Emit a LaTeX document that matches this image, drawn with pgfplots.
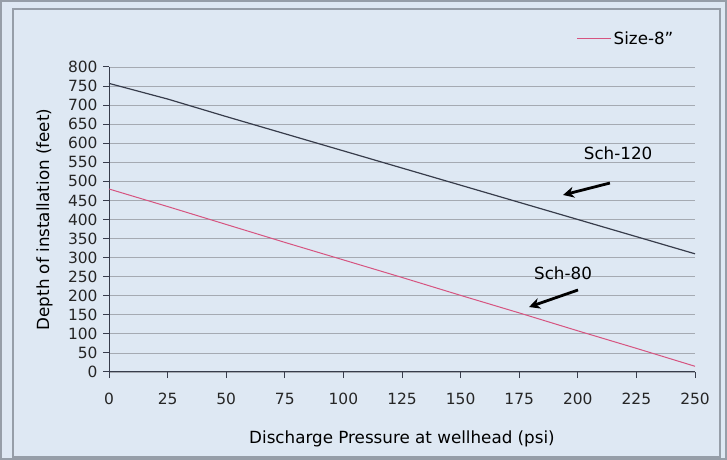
\documentclass[border=0pt]{standalone}
\usepackage{pgfplots}
\pgfplotsset{compat=1.18}
\usepackage{fontspec}
\setmainfont{DejaVu Sans}
\usetikzlibrary{arrows.meta}
\definecolor{bgblue}{RGB}{222,232,243}
\definecolor{framegray}{RGB}{150,158,168}
\definecolor{gridgray}{RGB}{165,170,178}
\definecolor{darkline}{RGB}{55,60,75}
\definecolor{pinkline}{RGB}{214,84,128}
\newcommand{\lblfont}{\fontsize{16.8}{18}\selectfont}
\begin{document}
\begin{tikzpicture}
\fill[bgblue] (0,0) rectangle (727bp,460bp);
\useasboundingbox (0,0) rectangle (727bp,460bp);
\draw[framegray, line width=1.2bp] (1bp,1bp) rectangle (726bp,459bp);
\draw[framegray, line width=1.5bp] (13bp,3bp) rectangle (720bp,451bp);
\begin{axis}[
    at={(109bp,88bp)}, anchor=south west,
    scale only axis, width=586bp, height=305bp,
    xmin=0, xmax=250, ymin=0, ymax=800,
    enlargelimits=false,
    axis x line=bottom, axis y line=left,
    axis line style={darkline, line width=1bp, -},
    xtick={0,25,...,250}, ytick={0,50,...,800},
    tick align=outside, major tick length=6bp,
    tick style={darkline, line width=1bp},
    ymajorgrids, grid style={gridgray, line width=0.8bp},
    font=\fontsize{15.5}{17}\selectfont,
    /pgf/number format/assume math mode=true,
    ticklabel style={text=black!85},
    xticklabel style={yshift=-12bp},
    yticklabel style={xshift=-2bp},
    every axis y label/.style={at={(axis description cs:-0.11,0.5)}, rotate=90, anchor=center, font=\lblfont},
    every axis x label/.style={at={(axis description cs:0.5,-0.22)}, anchor=center, font=\lblfont},
    xlabel={Discharge Pressure at wellhead (psi)},
    ylabel={Depth of installation (feet)},
    legend style={draw=none, fill=none, at={(rel axis cs:0.972,1.092)}, anchor=east, font=\lblfont},
    legend image code/.code={\draw[#1] (0bp,0bp) -- (34bp,0bp);},
    clip=false,
]
\addplot[darkline, line width=1.2bp, forget plot] coordinates {
(0,757) (25,716) (50,670) (75,625) (100,580) (125,535) (150,490) (175,445) (200,400) (225,355) (250,310)};
\addplot[pinkline, line width=1bp] coordinates {
(0,480) (25,434) (50,387) (75,340) (100,294) (125,248) (150,201) (175,155) (200,108) (225,62) (250,15)};
\addlegendentry{Size-8''}
\node[font=\lblfont] at (axis cs:217.2,574.4) {Sch-120};
\node[font=\lblfont] at (axis cs:193.7,259.7) {Sch-80};
\draw[-{Stealth[length=11bp,width=11bp]}, line width=2.8bp, black] (axis cs:213.7,495.7) -- (axis cs:193.7,464.3);
\draw[-{Stealth[length=11bp,width=11bp]}, line width=2.8bp, black] (axis cs:200.1,215.1) -- (axis cs:179.2,170.5);
\end{axis}
\end{tikzpicture}
\end{document}
